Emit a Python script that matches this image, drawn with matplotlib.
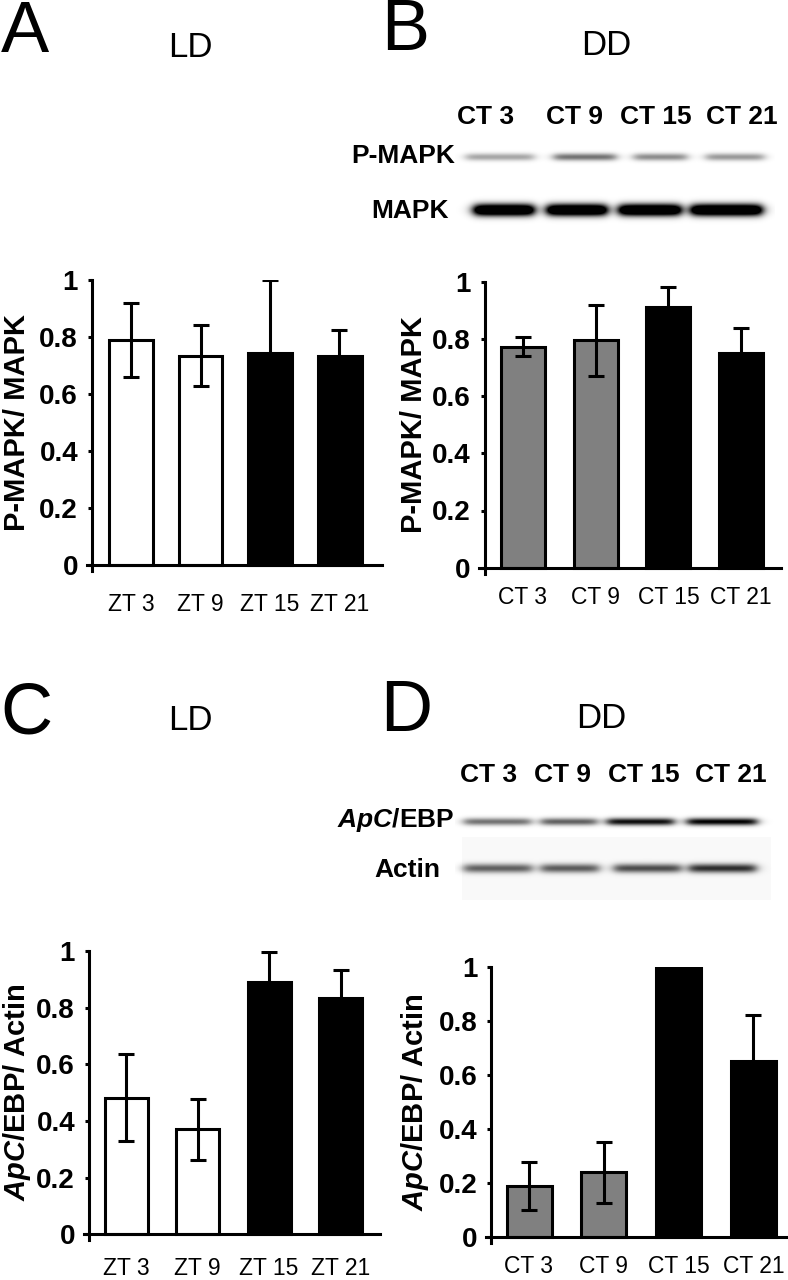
import numpy as np
import matplotlib
matplotlib.use("Agg")
import matplotlib.pyplot as plt

plt.rcParams["font.family"] = ["Liberation Sans", "DejaVu Sans"]
plt.rcParams["mathtext.fontset"] = "custom"
plt.rcParams["mathtext.it"] = "Liberation Sans:italic:bold"
plt.rcParams["mathtext.rm"] = "Liberation Sans:bold"
plt.rcParams["mathtext.bf"] = "Liberation Sans:bold"

W, H = 788, 1280

# ---- data ----
zt_labels = ["ZT 3", "ZT 9", "ZT 15", "ZT 21"]
ct_labels = ["CT 3", "CT 9", "CT 15", "CT 21"]
ct_blot_labels = ["CT 3", "CT 9", "CT 15", "CT 21"]

mapk_ld = [0.79, 0.735, 0.745, 0.733]
mapk_ld_err = [0.13, 0.107, 0.255, 0.09]
mapk_dd = [0.773, 0.795, 0.91, 0.75]
mapk_dd_err = [0.033, 0.125, 0.073, 0.087]
cebp_ld = [0.482, 0.37, 0.892, 0.833]
cebp_ld_err = [0.153, 0.107, 0.105, 0.10]
cebp_dd = [0.187, 0.238, 1.0, 0.652]
cebp_dd_err = [0.088, 0.112, 0.0, 0.17]

# band darkness per lane (0 = none, 1 = black)
pmapk_band = [0.35, 0.55, 0.45, 0.40]
mapk_band = [1.0, 1.0, 1.0, 1.0]
cebp_band = [0.55, 0.62, 0.95, 1.0]
actin_band = [0.6, 0.62, 0.68, 0.8]

y_ticks = [0, 0.2, 0.4, 0.6, 0.8, 1]
y_ticklabels = ["0", "0.2", "0.4", "0.6", "0.8", "1"]

LD_COLORS = ["white", "white", "black", "black"]
DD_COLORS = ["#808080", "#808080", "black", "black"]


def rect(x0, y_top, x1, y_bot):
    return [x0 / W, 1 - y_bot / H, (x1 - x0) / W, (y_bot - y_top) / H]


def fx(x):
    return x / W


def fy(y):
    return 1 - y / H


def bar_panel(fig, labels, vals, errs, colors, cx0, dx, yaxis_px, xstart, xend,
              y0, y1, bar_px, xpad, ylabel, ylabel_x):
    stub = 6
    ax = fig.add_axes(rect(xstart, y1, xend, y0 + stub))
    ax.set_xlim((xstart - cx0) / dx, (xend - cx0) / dx)
    ax.set_ylim(-stub / (y0 - y1), 1)
    pos = np.arange(len(vals))
    ax.bar(pos, vals, width=bar_px / dx, color=colors, edgecolor="black",
           linewidth=2.2, yerr=errs,
           error_kw=dict(ecolor="black", elinewidth=2.2, capsize=6,
                         capthick=2.2, zorder=3))
    for s in ["top", "right"]:
        ax.spines[s].set_visible(False)
    ax.spines["left"].set_position(("data", (yaxis_px - cx0) / dx))
    ax.spines["bottom"].set_position(("data", 0))
    ax.spines["left"].set_linewidth(2.2)
    ax.spines["bottom"].set_linewidth(2.2)
    ax.set_yticks(y_ticks)
    ax.set_yticklabels(y_ticklabels, fontsize=20, fontweight="bold")
    ax.tick_params(axis="y", direction="out", length=3, width=2.2, pad=7)
    ax.set_xticks(pos)
    ax.set_xticklabels(labels, fontsize=16.5)
    ax.tick_params(axis="x", length=0, pad=xpad)
    ax.patch.set_visible(False)
    fig.text(fx(ylabel_x), fy((y0 + y1) / 2), ylabel, rotation=90,
             ha="center", va="center", fontsize=21, fontweight="bold")
    return ax


def blot(fig, x0, x1, y0, y1, rows, bg=None):
    ax = fig.add_axes(rect(x0, y0, x1, y1))
    xs = np.arange(x0, x1) + 0.5
    ys = np.arange(y0, y1) + 0.5
    X, Y = np.meshgrid(xs, ys)
    img = np.zeros_like(X)
    if bg is not None:
        bx0, bx1, by0, by1, level = bg
        img += level * ((X > bx0) & (X < bx1) & (Y > by0) & (Y < by1))
    for yc, sig, lanes, dark in rows:
        for (lx0, lx1), d in zip(lanes, dark):
            px = 0.5 * (np.tanh((X - lx0) / 6) - np.tanh((X - lx1) / 6))
            py = np.exp(-0.5 * ((Y - yc) / sig) ** 2)
            img += d * px * py
    img = np.clip(img, 0, 1)
    ax.imshow(img, extent=(x0, x1, y1, y0), cmap="gray_r", vmin=0, vmax=1,
              interpolation="bilinear", aspect="auto")
    ax.set_xlim(x0, x1)
    ax.set_ylim(y1, y0)
    ax.axis("off")
    return ax


fig = plt.figure(figsize=(W / 100, H / 100), dpi=100)

# panel letters and condition titles
for letter, x, base in [("A", 1, 52), ("B", 381, 50), ("C", 0, 734), ("D", 380, 731)]:
    fig.text(fx(x), fy(base), letter, fontsize=52, ha="left", va="baseline")
for title, x, base in [("LD", 190, 57), ("DD", 606, 55), ("LD", 190, 730), ("DD", 601, 728)]:
    fig.text(fx(x), fy(base), title, fontsize=25, ha="center", va="baseline")

# bar charts
bar_panel(fig, zt_labels, mapk_ld, mapk_ld_err, LD_COLORS, 131, 69.5, 92, 87, 382,
          565, 280, 44, 20, "P-MAPK/ MAPK", 17)
bar_panel(fig, ct_labels, mapk_dd, mapk_dd_err, DD_COLORS, 523, 72.7, 484.7, 479, 781,
          567.7, 281.7, 44, 13, "P-MAPK/ MAPK", 414)
bar_panel(fig, zt_labels, cebp_ld, cebp_ld_err, LD_COLORS, 126, 71.5, 89, 84, 380,
          1234.3, 951, 43, 16, r"$\mathit{ApC}$/EBP/ Actin", 17)
bar_panel(fig, ct_labels, cebp_dd, cebp_dd_err, DD_COLORS, 529, 74.8, 491.3, 486, 787,
          1236.7, 966.7, 45, 13, r"$\mathit{ApC}$/EBP/ Actin", 415)

# western blots
blot(fig, 455, 775, 138, 240, [
    (157, 2.6, [(466, 534), (554, 616), (634, 687), (706, 764)], pmapk_band),
    (210, 4.2, [(474, 534), (547, 607), (619, 681), (691, 762)],
     [1.6 * v for v in mapk_band]),
])
blot(fig, 455, 780, 800, 905, [
    (821.7, 2.6, [(464, 531), (541, 597), (607, 674), (687, 757)], cebp_band),
    (868.3, 3.2, [(464, 532), (541, 599), (614, 681), (689, 756)], actin_band),
], bg=(462, 771, 837, 900, 0.025))

for lab, x in zip(ct_blot_labels, [485.7, 574, 655.7, 742.3]):
    fig.text(fx(x), fy(124), lab, fontsize=19, fontweight="bold", ha="center", va="baseline")
for lab, x in zip(ct_blot_labels, [489, 562, 644, 730.7]):
    fig.text(fx(x), fy(781.7), lab, fontsize=19, fontweight="bold", ha="center", va="baseline")

fig.text(fx(403), fy(163), "P-MAPK", fontsize=19, fontweight="bold", ha="center", va="baseline")
fig.text(fx(410), fy(218), "MAPK", fontsize=19, fontweight="bold", ha="center", va="baseline")
fig.text(fx(454), fy(826.7), r"$\mathit{ApC}$/EBP", fontsize=19, fontweight="bold",
         ha="right", va="baseline")
fig.text(fx(407), fy(876.7), "Actin", fontsize=19, fontweight="bold", ha="center", va="baseline")

fig.savefig("out.png", dpi=100)
